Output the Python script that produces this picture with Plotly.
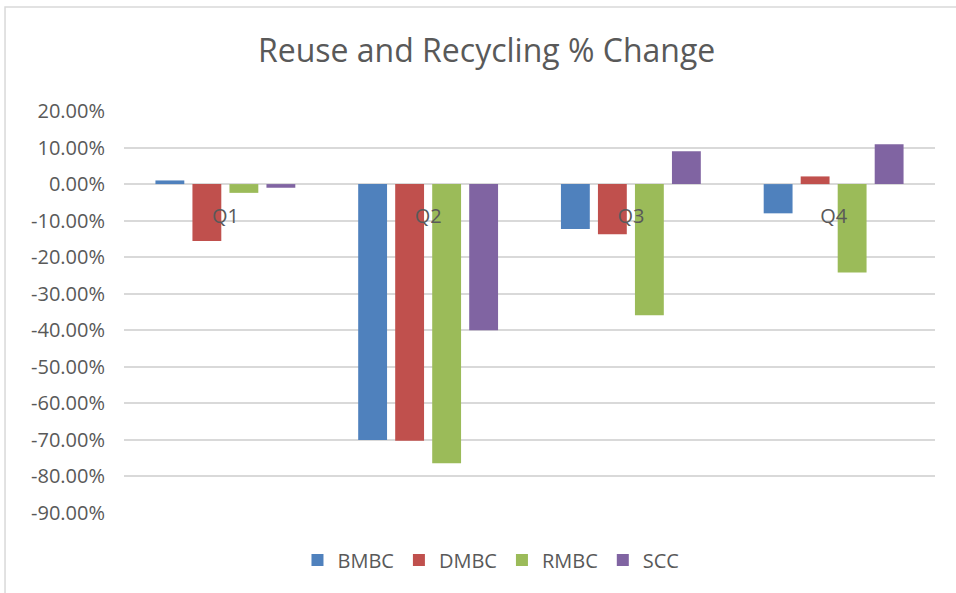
import plotly.graph_objects as go

# quarters and % change per authority
quarters = ["Q1", "Q2", "Q3", "Q4"]
bmbc = [1.0, -70.0, -12.3, -8.0]
dmbc = [-15.6, -70.2, -13.7, 2.1]
rmbc = [-2.4, -76.4, -35.9, -24.2]
scc = [-1.0, -40.0, 9.0, 10.9]

series = [
    ("BMBC", bmbc, "#4F81BD"),
    ("DMBC", dmbc, "#C0504D"),
    ("RMBC", rmbc, "#9BBB59"),
    ("SCC", scc, "#8064A2"),
]

# value axis ticks (plain hyphen, like Excel)
y_ticks = [20, 10, 0, -10, -20, -30, -40, -50, -60, -70, -80, -90]
y_labels = ["20.00%", "10.00%", "0.00%", "-10.00%", "-20.00%", "-30.00%",
            "-40.00%", "-50.00%", "-60.00%", "-70.00%", "-80.00%", "-90.00%"]

y_min, y_max = -90, 20
txt = "#595959"
grid = "#D9D9D9"

fig = go.Figure()
for name, vals, col in series:
    fig.add_trace(go.Bar(x=quarters, y=vals, name=name, marker_color=col,
                         marker_line_width=0))

fig.update_layout(
    width=956, height=593,
    margin=dict(l=124, r=21, t=111, b=80),
    paper_bgcolor="white", plot_bgcolor="white",
    font=dict(family="Open Sans", color=txt, size=20),
    barmode="group", bargap=0.27, bargroupgap=0.22,
    title=dict(text="Reuse and Recycling % Change", x=0.509, y=0.914,
               xref="container", yref="container",
               xanchor="center", yanchor="middle",
               font=dict(size=32, color=txt)),
    legend=dict(orientation="h", x=0.4525, xanchor="center",
                y=-0.117, yanchor="middle", font=dict(size=20, color=txt),
                itemwidth=30),
    showlegend=True,
)

# category axis sits on the zero line, like Excel
fig.update_xaxes(anchor="free", position=(0 - y_min) / (y_max - y_min),
                 showgrid=False, showline=False, ticks="",
                 ticklabelstandoff=18, tickfont=dict(size=20, color=txt))
fig.update_yaxes(range=[y_min, y_max], tickvals=y_ticks, ticktext=y_labels,
                 showgrid=True, gridcolor=grid, gridwidth=1.5,
                 zeroline=True, zerolinecolor=grid, zerolinewidth=1.5,
                 showline=False, ticklabelstandoff=18,
                 tickfont=dict(size=20, color=txt))

# outer chart border
fig.add_shape(type="rect", xref="paper", yref="paper",
              x0=-0.1467, x1=1.2, y0=-0.4, y1=1.2587,
              line=dict(color="#D9D9D9", width=1.5), layer="below")

# drop the default 8px body margin so the figure sits at the page corner
fig.write_html("out.html", config={"displayModeBar": False},
               post_script="document.body.style.margin='0';")
